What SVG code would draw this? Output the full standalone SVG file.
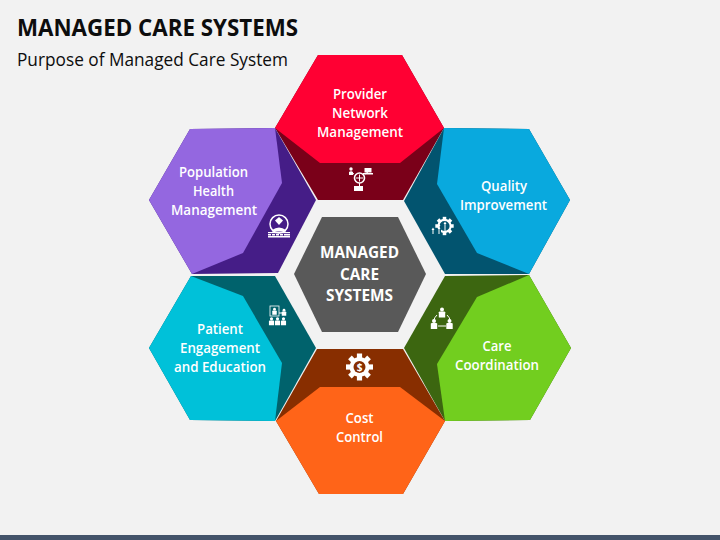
<svg xmlns="http://www.w3.org/2000/svg" width="720" height="540" viewBox="0 0 720 540">
<style>
text{font-family:"Open Sans","Noto Sans","Liberation Sans",sans-serif}
.l{font-size:14.7px;fill:#fff;text-anchor:middle;font-weight:600}
.c{font-size:16px;fill:#fff;text-anchor:middle;font-weight:700}
.w{fill:#fff}
.o{fill:none;stroke:#fff}
</style>
<defs>
<g id="tooth"><rect x="-2.6" y="-13.5" width="5.2" height="5" fill="#fff"/></g>
<g id="man"><circle cx="0" cy="-4" r="2" fill="#fff"/><path d="M-3.2 4V-1.2Q-3.2-2 -2-2H2Q3.2-2 3.2-1.2V4Z" fill="#fff"/></g>
</defs>
<rect width="720" height="540" fill="#f2f2f2"/>
<rect y="535" width="720" height="5" fill="#44546a"/>
<text x="17" y="36" font-size="23" font-weight="700" fill="#0d0d0d" textLength="281" lengthAdjust="spacingAndGlyphs">MANAGED CARE SYSTEMS</text>
<text x="17" y="66" font-size="17.500" fill="#0d0d0d" textLength="271" lengthAdjust="spacingAndGlyphs">Purpose of Managed Care System</text>

<g id="node-provider">
<polygon fill="#7a0019" points="275,128 318,55 402,55 444,128 403,200 318,200"/>
<polygon fill="#ff0033" points="275,128 318,55 402,55 444,128 400,163 320,163"/>
<text class="l" x="360" y="99" textLength="54" lengthAdjust="spacingAndGlyphs">Provider</text>
<text class="l" x="360" y="118" textLength="56" lengthAdjust="spacingAndGlyphs">Network</text>
<text class="l" x="360" y="137" textLength="86" lengthAdjust="spacingAndGlyphs">Management</text>
<circle class="o" cx="359.500" cy="178" r="5" stroke-width="1.6"/>
<path class="o" stroke-width="1" d="M356 178H363M359.500 174.500V181.500M354 174L351 172M365 174L368 172M359.500 183V186"/>
<circle class="w" cx="351" cy="169" r="1.700"/><path class="w" d="M349 175V172Q351 170.500 353 172V175Z"/>
<rect class="w" x="364.500" y="168" width="7" height="4.500"/><rect class="w" x="363" y="173" width="10" height="1.500"/>
<rect class="w" x="354" y="186" width="9" height="5"/>
</g>

<g id="node-population">
<polygon fill="#451d87" points="190,129 275,128 316,200 278,273 192,274 149,200"/>
<polygon fill="#9467e0" points="190,129 275,128 282,183 243,253 192,274 149,200"/>
<text class="l" x="213.500" y="177" textLength="69" lengthAdjust="spacingAndGlyphs">Population</text>
<text class="l" x="213.500" y="196" textLength="41" lengthAdjust="spacingAndGlyphs">Health</text>
<text class="l" x="214" y="215" textLength="86" lengthAdjust="spacingAndGlyphs">Management</text>
<circle class="o" cx="279" cy="224" r="9" stroke-width="1.500"/>
<path class="w" d="M279 217L283 220.500L279 225L275 220.500Z"/>
<path class="w" d="M272 230Q279 225 286 230V231.500H272Z"/>
<g class="w"><rect x="268" y="232" width="22" height="1.200"/><rect x="268" y="234" width="3" height="1.500"/><rect x="272" y="234" width="3" height="1.500"/><rect x="276" y="234" width="3" height="1.500"/><rect x="280" y="234" width="3" height="1.500"/><rect x="284" y="234" width="6" height="1.500"/><rect x="268" y="236" width="22" height="1.500"/></g>
</g>

<g id="node-quality">
<polygon fill="#02546f" points="444,128 529,129 570,200 529,274 445,274 404,201"/>
<polygon fill="#09a9de" points="444,128 529,129 570,200 529,274 477,253 437,184"/>
<text class="l" x="504" y="191" textLength="46" lengthAdjust="spacingAndGlyphs">Quality</text>
<text class="l" x="503.500" y="210" textLength="87" lengthAdjust="spacingAndGlyphs">Improvement</text>
<g transform="translate(444.500 226) scale(.68)">
<circle class="o" r="9" stroke-width="3"/>
<use href="#tooth"/><use href="#tooth" transform="rotate(45)"/><use href="#tooth" transform="rotate(90)"/><use href="#tooth" transform="rotate(135)"/><use href="#tooth" transform="rotate(180)"/><use href="#tooth" transform="rotate(225)"/><use href="#tooth" transform="rotate(270)"/><use href="#tooth" transform="rotate(315)"/>
</g>
<rect x="436" y="229" width="5" height="7" fill="#02546f"/>
<path class="w" d="M432.500 234V230H431.500L433 227.500L434.500 230H433.500V234ZM438.500 234V226H437.500L439 223.500L440.500 226H439.500V234ZM444.500 234V224H443.500L445 221.500L446.500 224H445.500V234Z"/>
</g>

<g id="node-patient">
<polygon fill="#00626c" points="191,276 275,276 316,348 275,421 190,420 149,348"/>
<polygon fill="#00c1d9" points="191,276 243,296 282,363 275,421 190,420 149,348"/>
<text class="l" x="220" y="334" textLength="46" lengthAdjust="spacingAndGlyphs">Patient</text>
<text class="l" x="220" y="353" textLength="80" lengthAdjust="spacingAndGlyphs">Engagement</text>
<text class="l" x="220" y="372" textLength="92" lengthAdjust="spacingAndGlyphs">and Education</text>
<rect class="o" x="270" y="306" width="9" height="10" stroke-width=".8"/>
<g transform="translate(274.500 312) scale(.7)"><use href="#man"/></g>
<path class="o" stroke-width="1" d="M279 313H283"/>
<g transform="translate(284 313) scale(.7)"><use href="#man"/></g>
<g transform="translate(271.500 322) scale(.8)"><use href="#man"/></g>
<g transform="translate(277.500 322) scale(.8)"><use href="#man"/></g>
<g transform="translate(283.500 322) scale(.8)"><use href="#man"/></g>
</g>

<g id="node-care">
<polygon fill="#3c6610" points="445,276 529,275 571,348 530,420 445,421 404,348"/>
<polygon fill="#72ce1f" points="529,275 571,348 530,420 445,421 437,364 477,297"/>
<text class="l" x="497" y="351" textLength="29" lengthAdjust="spacingAndGlyphs">Care</text>
<text class="l" x="497" y="370" textLength="84" lengthAdjust="spacingAndGlyphs">Coordination</text>
<g transform="translate(442 313.500)"><use href="#man"/></g>
<g transform="translate(434 325)"><use href="#man"/></g>
<g transform="translate(449.500 325)"><use href="#man"/></g>
<path class="o" stroke-width="1" d="M437 315Q434 318 434 320M447 315Q450 318 450 320M438 326H446"/>
</g>

<g id="node-cost">
<polygon fill="#882e00" points="317,349 403,349 445,421 403,494 319,494 276,421"/>
<polygon fill="#ff6418" points="276,421 320,387 400,387 445,421 403,494 319,494"/>
<text class="l" x="359.500" y="423" textLength="28" lengthAdjust="spacingAndGlyphs">Cost</text>
<text class="l" x="359.500" y="442" textLength="47" lengthAdjust="spacingAndGlyphs">Control</text>
<g transform="translate(359.500 367)">
<circle class="w" r="10"/>
<use href="#tooth"/><use href="#tooth" transform="rotate(45)"/><use href="#tooth" transform="rotate(90)"/><use href="#tooth" transform="rotate(135)"/><use href="#tooth" transform="rotate(180)"/><use href="#tooth" transform="rotate(225)"/><use href="#tooth" transform="rotate(270)"/><use href="#tooth" transform="rotate(315)"/>
<circle r="6" fill="#882e00"/>
<text y="3.500" font-size="10" font-weight="700" fill="#fff" text-anchor="middle">$</text>
</g>
</g>

<g id="node-center">
<polygon fill="#595959" points="322,217 398,217 426,274 398,332 322,332 294,274"/>
<text class="c" x="359.500" y="258" textLength="79" lengthAdjust="spacingAndGlyphs">MANAGED</text>
<text class="c" x="359.500" y="280" textLength="39" lengthAdjust="spacingAndGlyphs">CARE</text>
<text class="c" x="359.500" y="301" textLength="67" lengthAdjust="spacingAndGlyphs">SYSTEMS</text>
</g>
<g id="connectors"/>
</svg>
